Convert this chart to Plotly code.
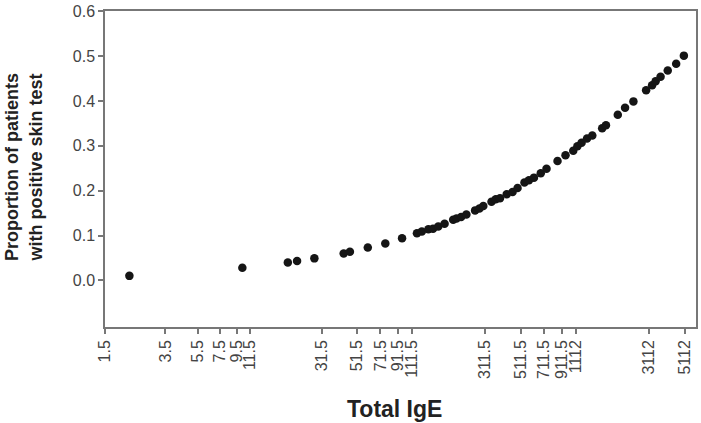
import plotly.graph_objects as go
import numpy as np

total_ige = [2.11, 10.3, 19.5, 22.2, 28.3, 42.7, 46.6, 59.9, 76.6, 96.9,
             119.4, 127.9, 140.2, 149.6, 161, 176, 198.6, 208, 222, 239,
             270, 287, 303, 340, 361, 383, 421, 457, 490, 540,
             575, 617, 679, 736, 859, 961, 1071, 1135, 1204, 1299,
             1399, 1607, 1695, 2001, 2216, 2492, 2978, 3239, 3402, 3648,
             4034, 4541, 5059]
proportion = [0.010, 0.028, 0.040, 0.043, 0.049, 0.060, 0.064, 0.073, 0.082, 0.094,
              0.105, 0.109, 0.114, 0.115, 0.120, 0.126, 0.135, 0.138, 0.141, 0.147,
              0.156, 0.160, 0.166, 0.175, 0.181, 0.183, 0.192, 0.197, 0.206, 0.218,
              0.223, 0.229, 0.239, 0.249, 0.266, 0.279, 0.289, 0.299, 0.307, 0.316,
              0.323, 0.339, 0.346, 0.369, 0.385, 0.399, 0.424, 0.435, 0.444, 0.454,
              0.468, 0.483, 0.501]

x_tick_vals = [1.5, 3.5, 5.5, 7.5, 9.5, 11.5, 31.5, 51.5, 71.5, 91.5, 111.5,
               311.5, 511.5, 711.5, 911.5, 1112, 3112, 5112]
x_tick_text = ["1.5", "3.5", "5.5", "7.5", "9.5", "11.5", "31.5", "51.5", "71.5",
               "91.5", "111.5", "311.5", "511.5", "711.5", "911.5", "1112", "3112", "5112"]
y_tick_vals = [0.0, 0.1, 0.2, 0.3, 0.4, 0.5, 0.6]
y_tick_text = ["0.0", "0.1", "0.2", "0.3", "0.4", "0.5", "0.6"]

font_family = "Liberation Sans, Arial, sans-serif"
axis_color = "#777777"

fig = go.Figure()
fig.add_trace(go.Scatter(
    x=total_ige, y=proportion, mode="markers",
    marker=dict(size=8.5, color="#151515"),
    showlegend=False, cliponaxis=False,
))

fig.update_layout(
    width=701, height=423,
    margin=dict(l=105, r=3, t=8, b=96),
    paper_bgcolor="white", plot_bgcolor="white",
    font=dict(family=font_family, color="#444444"),
    xaxis=dict(
        type="log",
        range=[np.log10(1.5) - 0.0005, 3.778],
        tickmode="array", tickvals=x_tick_vals, ticktext=x_tick_text,
        tickangle=-90,
        ticks="outside", ticklen=5, tickcolor=axis_color, tickwidth=1.5,
        tickfont=dict(size=16, color="#444444"),
        ticklabeloverflow="allow",
        showline=True, linecolor=axis_color, linewidth=1.5, mirror=True,
        showgrid=False, zeroline=False,
    ),
    yaxis=dict(
        range=[-0.104, 0.6005],
        tickmode="array", tickvals=y_tick_vals, ticktext=y_tick_text,
        ticks="outside", ticklen=5, tickcolor=axis_color, tickwidth=1.5,
        tickfont=dict(size=16, color="#444444"),
        ticklabeloverflow="allow",
        showline=True, linecolor=axis_color, linewidth=1.5, mirror=True,
        showgrid=False, zeroline=False,
    ),
    annotations=[
        dict(text="<b>Total IgE</b>", xref="paper", yref="paper",
             x=0.49, y=-0.259, xanchor="center", yanchor="middle",
             showarrow=False, font=dict(size=23, color="#222222", family=font_family)),
        dict(text="<b>Proportion of patients<br>with positive skin test</b>",
             xref="paper", yref="paper", x=-0.138, y=0.506,
             xanchor="center", yanchor="middle", textangle=-90,
             showarrow=False, font=dict(size=18, color="#222222", family=font_family)),
    ],
)

fig.write_html("out.html")
